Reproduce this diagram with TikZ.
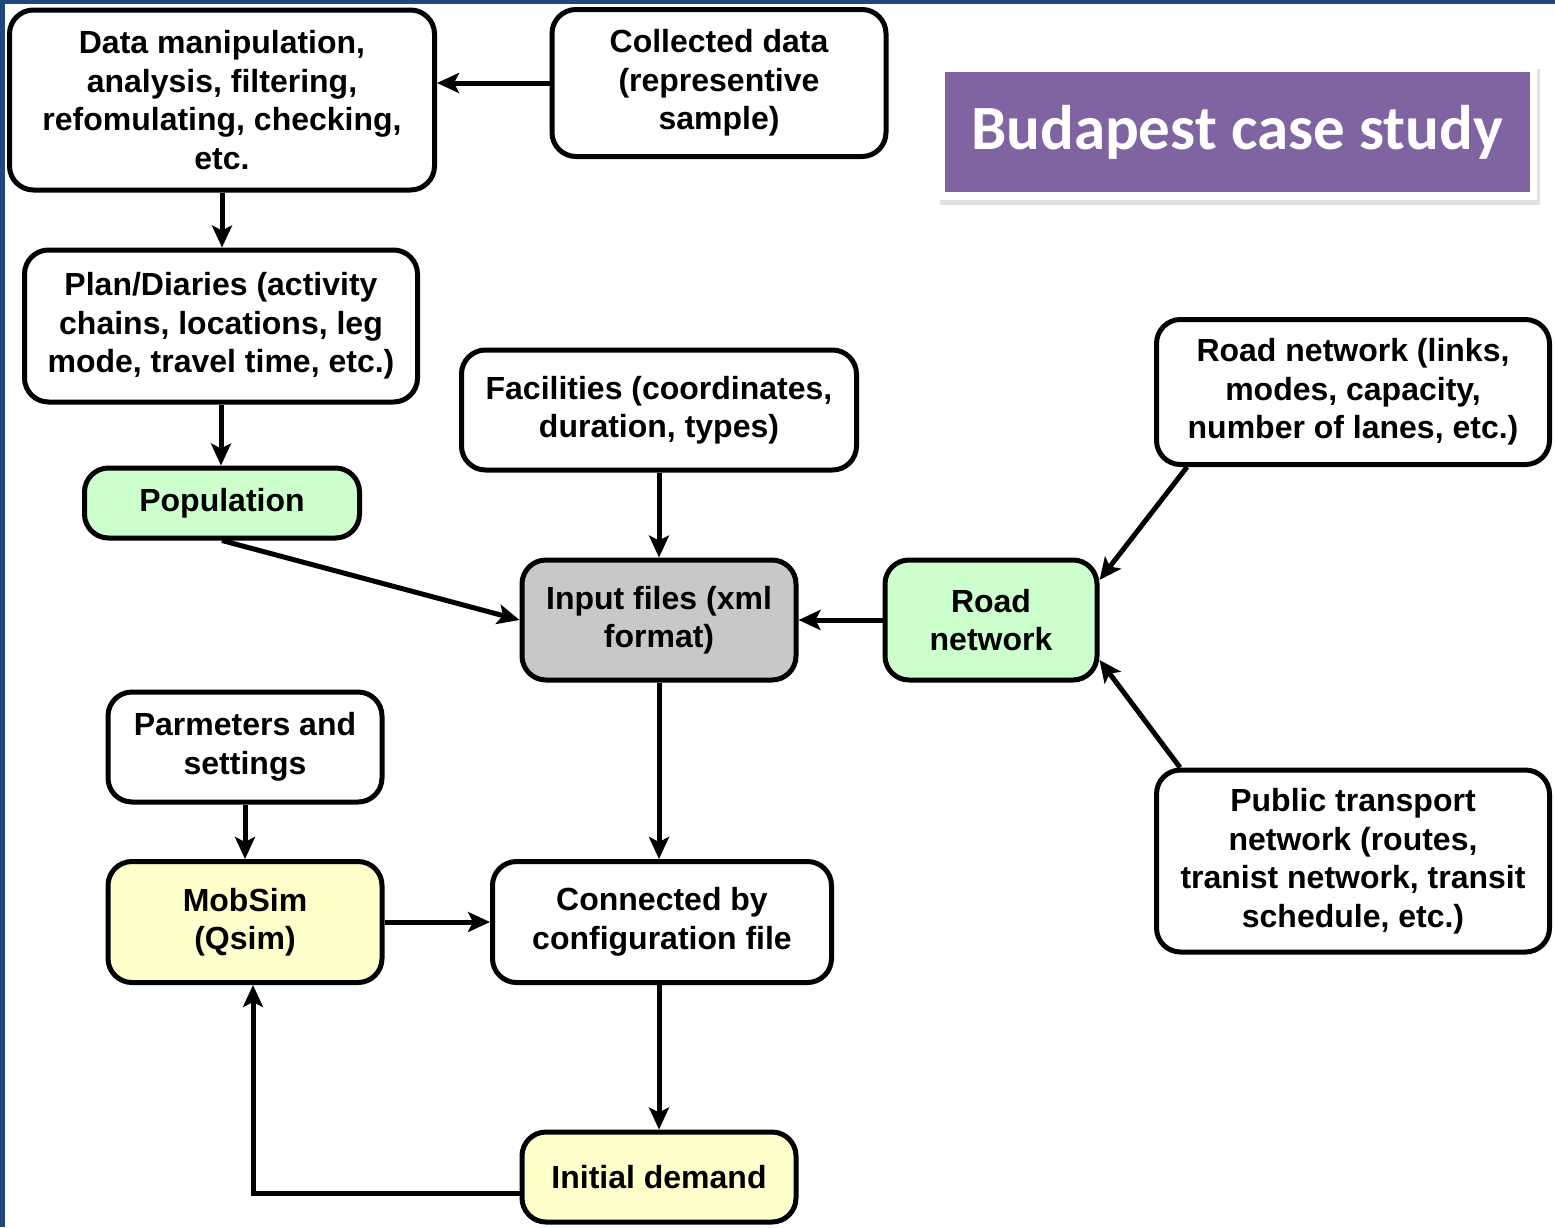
\documentclass[tikz,border=0pt]{standalone}
\usepackage{fontspec}
\setmainfont{Liberation Sans}
\newfontfamily\titlefont{Carlito}
\usetikzlibrary{arrows.meta}
\definecolor{bordblue}{RGB}{31,73,125}
\definecolor{lgreen}{RGB}{204,255,204}
\definecolor{lyellow}{RGB}{255,255,204}
\definecolor{lgray}{RGB}{200,200,200}
\definecolor{tpurple}{RGB}{128,100,162}
\begin{document}
\begin{tikzpicture}[x=1pt,y=-1pt,
  box/.style={draw=black, line width=5pt, rounded corners=24pt, align=center,
    font=\bfseries\fontsize{32}{38.5}\selectfont, inner sep=0pt, fill=white},
  arr/.style={line width=5pt, -{Stealth[length=22pt,width=20pt,inset=5pt]}}]
\useasboundingbox (0,0) rectangle (1555,1227);
\fill[white] (0,0) rectangle (1555,1227);
\fill[bordblue] (0,0) rectangle (1555,4);
\fill[bordblue] (0,0) rectangle (5,1227);
% title
\fill[black!12] (940,69) rectangle (1540,205);
\fill[white] (937,65) rectangle (1537,200);
\node[fill=tpurple, text=white, inner sep=0pt, minimum width=585pt, minimum height=120pt,
  font=\titlefont\bfseries\fontsize{63}{66}\selectfont] (title) at (1237,132) {Budapest case study};
% nodes
\node[box, minimum width=425pt, minimum height=180pt] (dm) at (222,100)
  {Data manipulation,\\analysis, filtering,\\refomulating, checking,\\etc.};
\node[box, minimum width=334pt, minimum height=147pt] (cd) at (719,83)
  {Collected data\\(representive\\sample)};
\node[box, minimum width=393pt, minimum height=152pt] (plan) at (221,326)
  {Plan/Diaries (activity\\chains, locations, leg\\mode, travel time, etc.)};
\node[box, fill=lgreen, minimum width=275pt, minimum height=70pt] (pop) at (222,503)
  {Population};
\node[box, minimum width=395pt, minimum height=120pt] (fac) at (659,410)
  {Facilities (coordinates,\\duration, types)};
\node[box, fill=lgray, minimum width=274pt, minimum height=120pt] (inp) at (659,620)
  {Input files (xml\\format)};
\node[box, fill=lgreen, minimum width=212pt, minimum height=120pt] (road) at (991,620)
  {Road\\network};
\node[box, minimum width=393pt, minimum height=145pt] (roadl) at (1353,392)
  {Road network (links,\\modes, capacity,\\number of lanes, etc.)};
\node[box, minimum width=393pt, minimum height=182pt] (pt) at (1353,861)
  {Public transport\\network (routes,\\tranist network, transit\\schedule, etc.)};
\node[box, minimum width=274pt, minimum height=110pt] (par) at (245,747)
  {Parmeters and\\settings};
\node[box, fill=lyellow, minimum width=274pt, minimum height=121pt] (mob) at (245,922)
  {MobSim\\(Qsim)};
\node[box, minimum width=339pt, minimum height=121pt] (conf) at (662,922)
  {Connected by\\configuration file};
\node[box, fill=lyellow, minimum width=274pt, minimum height=90pt] (init) at (659,1177)
  {Initial demand};
% connectors
\draw[arr] (cd.west) -- (cd.west -| dm.east);
\draw[arr] (dm.south) -- (dm.south |- plan.north);
\draw[arr] (plan.south) -- (plan.south |- pop.north);
\draw[arr] (pop.south) -- (inp.west);
\draw[arr] (fac.south) -- (fac.south |- inp.north);
\draw[arr] (road.west) -- (inp.east);
\draw[arr] ([xshift=33pt]roadl.south west) -- ([yshift=40pt]road.east);
\draw[arr] ([xshift=26pt]pt.north west) -- ([yshift=-40pt]road.east);
\draw[arr] (inp.south) -- (inp.south |- conf.north);
\draw[arr] (par.south) -- (par.south |- mob.north);
\draw[arr] (mob.east) -- (mob.east -| conf.west);
\draw[arr] (conf.south -| init.north) -- (init.north);
\draw[arr] ([yshift=-16pt]init.west) -| ([xshift=8pt]mob.south);
\end{tikzpicture}
\end{document}
